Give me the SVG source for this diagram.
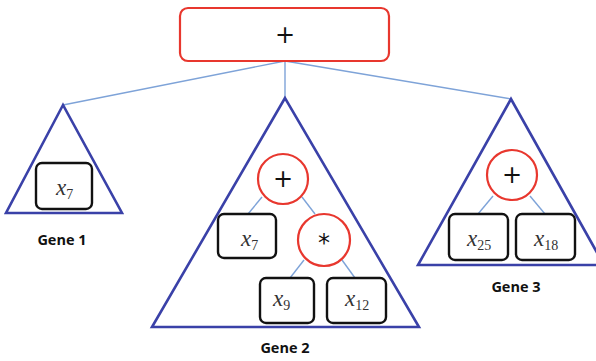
<svg xmlns="http://www.w3.org/2000/svg" width="596" height="361" viewBox="0 0 596 361">
  <style>
    .tri { fill: none; stroke: #3a41a8; stroke-width: 2.6; stroke-linejoin: miter; }
    .op { fill: #ffffff; stroke: #e8372e; stroke-width: 2.2; }
    .leaf { fill: #ffffff; stroke: #111111; stroke-width: 2.4; }
    .link { stroke: #7ea3d8; stroke-width: 1.4; fill: none; }
    .sym { font-family: "DejaVu Sans", "Liberation Sans", sans-serif; font-size: 24px; fill: #111; text-anchor: middle; }
    .var { font-family: "Liberation Serif", serif; font-style: italic; font-size: 23px; fill: #333; }
    .sub { font-family: "Liberation Serif", serif; font-style: normal; font-size: 14px; }
    .lbl { font-family: "Open Sans", "Liberation Sans", sans-serif; font-weight: bold; font-size: 14.5px; fill: #111; text-anchor: middle; }
  </style>

  <!-- connectors -->
  <g id="connectors">
    <line class="link" x1="285" y1="61" x2="63" y2="105"/>
    <line class="link" x1="285" y1="61" x2="285" y2="98"/>
    <line class="link" x1="285" y1="61" x2="511" y2="99"/>
    <line class="link" x1="262" y1="197" x2="248" y2="214"/>
    <line class="link" x1="302" y1="197" x2="315" y2="214"/>
    <line class="link" x1="304" y1="260" x2="290" y2="278"/>
    <line class="link" x1="342" y1="260" x2="355" y2="278"/>
    <line class="link" x1="493" y1="196" x2="478" y2="214"/>
    <line class="link" x1="530" y1="196" x2="545" y2="214"/>
  </g>

  <!-- root operator -->
  <g id="root">
    <rect class="op" x="180" y="8" width="209" height="53" rx="8"/>
    <text class="sym" x="285" y="43">+</text>
  </g>

  <!-- gene 1 -->
  <g id="gene1">
    <polygon class="tri" points="63,105 6,213 122,213"/>
    <rect class="leaf" x="36" y="163" width="56" height="46" rx="6"/>
    <text class="var" x="56" y="195">x<tspan class="sub" dy="4">7</tspan></text>
    <text class="lbl" x="62" y="245">Gene 1</text>
  </g>

  <!-- gene 2 -->
  <g id="gene2">
    <polygon class="tri" points="285,98 152,327 419,327"/>
    <g id="g2-plus">
      <circle class="op" cx="283" cy="179" r="25"/>
      <text class="sym" x="283" y="187">+</text>
    </g>
    <g id="g2-x7">
      <rect class="leaf" x="218" y="214" width="58" height="44" rx="6"/>
      <text class="var" x="241" y="246">x<tspan class="sub" dy="4">7</tspan></text>
    </g>
    <g id="g2-mul">
      <circle class="op" cx="324" cy="240" r="26"/>
      <text class="sym" x="324" y="251">*</text>
    </g>
    <g id="g2-x9">
      <rect class="leaf" x="260" y="278" width="54" height="45" rx="6"/>
      <text class="var" x="273" y="306">x<tspan class="sub" dy="4">9</tspan></text>
    </g>
    <g id="g2-x12">
      <rect class="leaf" x="327" y="278" width="59" height="45" rx="6"/>
      <text class="var" x="345" y="306">x<tspan class="sub" dy="4">12</tspan></text>
    </g>
    <text class="lbl" x="285" y="353">Gene 2</text>
  </g>

  <!-- gene 3 -->
  <g id="gene3">
    <polygon class="tri" points="511,99 418,265 604,265"/>
    <g id="g3-plus">
      <circle class="op" cx="512" cy="175" r="25"/>
      <text class="sym" x="512" y="183">+</text>
    </g>
    <g id="g3-x25">
      <rect class="leaf" x="449" y="214" width="59" height="46" rx="6"/>
      <text class="var" x="467" y="246">x<tspan class="sub" dy="4">25</tspan></text>
    </g>
    <g id="g3-x18">
      <rect class="leaf" x="516" y="214" width="59" height="46" rx="6"/>
      <text class="var" x="534" y="246">x<tspan class="sub" dy="4">18</tspan></text>
    </g>
    <text class="lbl" x="516" y="292">Gene 3</text>
  </g>
</svg>
